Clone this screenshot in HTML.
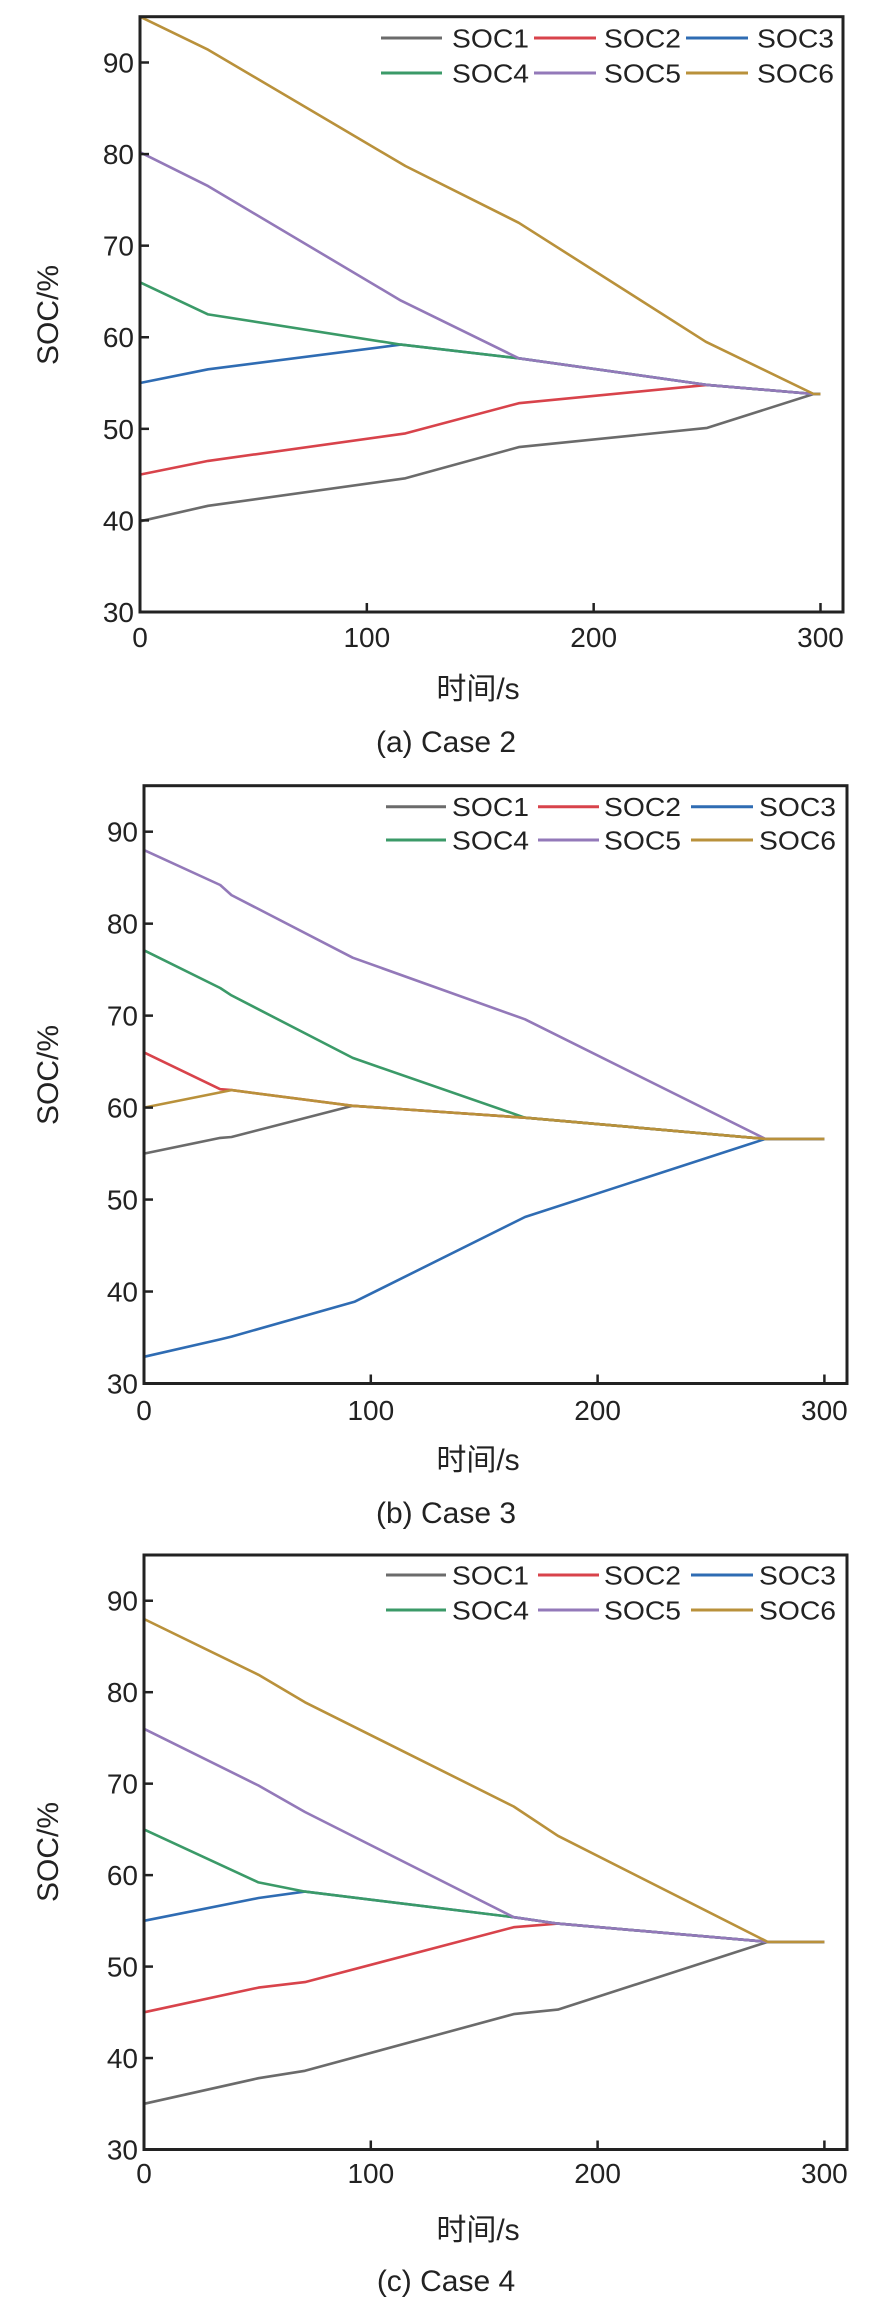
<!DOCTYPE html>
<html><head><meta charset="utf-8"><style>
html,body{margin:0;padding:0;background:#fff;}
svg{display:block;}
text{font-family:"Liberation Sans","Noto Sans CJK SC",sans-serif;fill:#222;}
</style></head><body>
<svg id="fig" width="886" height="2306" viewBox="0 0 886 2306" xmlns="http://www.w3.org/2000/svg"></svg>
<script>
// ---- data ----
const seriesNames = ["SOC1","SOC2","SOC3","SOC4","SOC5","SOC6"];
const xTicks = [0,100,200,300];
const yTicks = [30,40,50,60,70,80,90];
// Case 2
const c2t1=[0,30,117,167,250,297,300], c2v1=[39.9,41.6,44.6,48.0,50.1,53.8,53.8];
const c2t2=[0,30,117,167,250,297,300], c2v2=[45.0,46.5,49.5,52.8,54.8,53.8,53.8];
const c2t3=[0,30,115,167,250,297,300], c2v3=[55.0,56.5,59.2,57.7,54.8,53.8,53.8];
const c2t4=[0,30,115,167,250,297,300], c2v4=[66.0,62.5,59.2,57.7,54.8,53.8,53.8];
const c2t5=[0,30,115,167,250,297,300], c2v5=[80.2,76.5,64.0,57.7,54.8,53.8,53.8];
const c2t6=[0,30,117,167,249.5,297,300], c2v6=[95.0,91.4,78.7,72.5,59.5,53.8,53.8];
// Case 3
const c3t1=[0,33.6,38.6,92,168,274,300], c3v1=[55.0,56.7,56.8,60.2,58.9,56.6,56.6];
const c3t2=[0,33.6,38.6,92,168,274,300], c3v2=[66.0,62.0,61.9,60.2,58.9,56.6,56.6];
const c3t3=[0,33.6,38.6,93,168,274,300], c3v3=[32.9,34.8,35.1,38.9,48.1,56.6,56.6];
const c3t4=[0,33.6,38.6,92,168,274,300], c3v4=[77.1,73.0,72.2,65.4,58.9,56.6,56.6];
const c3t5=[0,33.6,38.6,92,168,274,300], c3v5=[88.0,84.2,83.1,76.3,69.6,56.6,56.6];
const c3t6=[0,38.6,92,168,274,300], c3v6=[60.0,61.9,60.2,58.9,56.6,56.6];
// Case 4
const c4t1=[0,50.5,71,163,182.5,275,300], c4v1=[35.0,37.8,38.6,44.8,45.3,52.7,52.7];
const c4t2=[0,50.5,71,163,182.5,275,300], c4v2=[45.0,47.7,48.3,54.3,54.7,52.7,52.7];
const c4t3=[0,50.5,71,163,182.5,275,300], c4v3=[55.0,57.5,58.2,55.4,54.7,52.7,52.7];
const c4t4=[0,50.5,71,163,182.5,275,300], c4v4=[65.0,59.2,58.2,55.4,54.7,52.7,52.7];
const c4t5=[0,50.5,71,163,182.5,275,300], c4v5=[76.0,69.8,66.9,55.4,54.7,52.7,52.7];
const c4t6=[0,50.5,71,163,182.5,275,300], c4v6=[88.0,81.9,78.9,67.5,64.3,52.7,52.7];
const captions = ["(a) Case 2","(b) Case 3","(c) Case 4"];

const colors=["#6b6b6b","#d8434b","#2f6cb3","#3b9a68","#9379b9","#b9913b"];
const NS="http://www.w3.org/2000/svg";
const svg=document.getElementById("fig");
function mk(tag,attrs,parent){const e=document.createElementNS(NS,tag);for(const k in attrs)e.setAttribute(k,attrs[k]);(parent||svg).appendChild(e);return e;}

const panels=[
 {key:"case2",L:140,R:843,T:16.7,B:612,x300:820.5,tickBase:647,xtBase:699,capBase:752,ytY:315,legY:[38,73],segs:[[381,442],[534,596],[686,748]],txt:[452,604,757],
  t:[c2t1,c2t2,c2t3,c2t4,c2t5,c2t6],v:[c2v1,c2v2,c2v3,c2v4,c2v5,c2v6]},
 {key:"case3",L:144,R:847,T:785.7,B:1383.5,x300:824.4,tickBase:1420,xtBase:1470,capBase:1523,ytY:1075,legY:[806.7,840],segs:[[386,446],[538,599],[691,753]],txt:[452,604,759],
  t:[c3t1,c3t2,c3t3,c3t4,c3t5,c3t6],v:[c3v1,c3v2,c3v3,c3v4,c3v5,c3v6]},
 {key:"case4",L:144,R:847,T:1555,B:2149.5,x300:824.4,tickBase:2183,xtBase:2240,capBase:2291,ytY:1852,legY:[1575,1610],segs:[[386,446],[538,599],[691,753]],txt:[452,604,759],
  t:[c4t1,c4t2,c4t3,c4t4,c4t5,c4t6],v:[c4t6&&c4v1,c4v2,c4v3,c4v4,c4v5,c4v6]}
];

panels.forEach((p,pi)=>{
  const g=mk("g",{});
  
  
  const xs=t=>p.L+(t/300)*(p.x300-p.L);
  const ys=v=>p.B-(v-30)/65*(p.B-p.T);
  // series
  for(let s=0;s<6;s++){
    const pts=p.t[s].map((t,i)=>xs(t).toFixed(1)+","+ys(p.v[s][i]).toFixed(1)).join(" ");
    const pl=mk("polyline",{points:pts,fill:"none",stroke:colors[s],"stroke-width":2.6,"stroke-linejoin":"round"},g);
    
    
  }
  // frame
  const fr=mk("rect",{x:p.L,y:p.T,width:p.R-p.L,height:p.B-p.T,fill:"none",stroke:"#222","stroke-width":3},g);
  
  
  // ticks
  xTicks.forEach(t=>{
    const x=xs(t);
    if(t>0) mk("line",{x1:x,x2:x,y1:p.B,y2:p.B-9,stroke:"#222","stroke-width":2.5},g);
    const tx=mk("text",{x:x,y:p.tickBase,"font-size":28,"text-anchor":"middle"},g);
    tx.textContent=t;
    
    
  });
  yTicks.forEach(v=>{
    const y=ys(v);
    mk("line",{x1:p.L,x2:p.L+9,y1:y,y2:y,stroke:"#222","stroke-width":2.5},g);
    const tx=mk("text",{x:p.L-6,y:y+10,"font-size":28,"text-anchor":"end"},g);
    tx.textContent=v;
    
    
  });
  // legend
  for(let s=0;s<6;s++){
    const r=Math.floor(s/3),c=s%3,y=p.legY[r];
    const ln=mk("line",{x1:p.segs[c][0],x2:p.segs[c][1],y1:y,y2:y,stroke:colors[s],"stroke-width":3},g);
    
    
    const tx=mk("text",{x:p.txt[c],y:y+9.5,"font-size":26,textLength:77,lengthAdjust:"spacingAndGlyphs"},g);
    tx.textContent=seriesNames[s];
    
    
  }
  // axis titles
  const yt=mk("text",{x:0,y:0,"font-size":30,"text-anchor":"middle",transform:"translate(58,"+p.ytY+") rotate(-90)"},g);
  yt.textContent="SOC/%";
  
  
  const xt=mk("text",{x:478,y:p.xtBase,"font-size":30,"text-anchor":"middle"},g);
  xt.textContent="时间/s";
  
  
  const cp=mk("text",{x:446,y:p.capBase,"font-size":30,"text-anchor":"middle"},g);
  cp.textContent=captions[pi];
  
  
});
</script>
</body></html>
